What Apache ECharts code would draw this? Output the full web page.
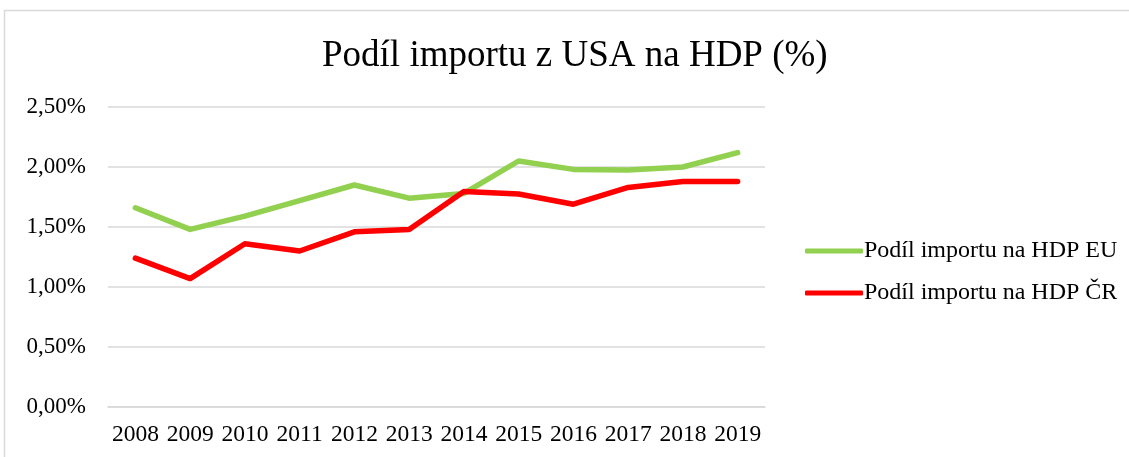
<!DOCTYPE html>
<html>
<head>
<meta charset="utf-8">
<script src="https://cdn.jsdelivr.net/npm/echarts@6/dist/echarts.min.js"></script>
<style>
  html, body { margin: 0; padding: 0; background: #fff; }
  #chart { width: 1129px; height: 457px; }
</style>
</head>
<body>
<div id="chart"></div>
<script>
var years = ['2008', '2009', '2010', '2011', '2012', '2013', '2014', '2015', '2016', '2017', '2018', '2019'];
var podilEU = [1.66, 1.48, 1.59, 1.72, 1.85, 1.74, 1.78, 2.05, 1.98, 1.975, 2.0, 2.12];
var podilCR = [1.24, 1.07, 1.36, 1.30, 1.46, 1.48, 1.795, 1.775, 1.69, 1.83, 1.88, 1.88];

var font = '"Liberation Serif", "Times New Roman", serif';
var chart = echarts.init(document.getElementById('chart'));

chart.setOption({
    animation: false,
    textStyle: { fontFamily: font },
    graphic: [{
        type: 'rect',
        shape: { x: 4.5, y: 10.5, width: 1200, height: 500 },
        style: { fill: 'none', stroke: '#d9d9d9', lineWidth: 1.5 },
        silent: true
    }],
    title: {
        text: 'Podíl importu z USA na HDP (%)',
        left: 322,
        top: 38,
        padding: 0,
        textStyle: { fontFamily: font, fontSize: 37, fontWeight: 'normal', color: '#000' }
    },
    legend: {
        orient: 'vertical',
        left: 800,
        top: 234,
        itemWidth: 58,
        itemHeight: 5,
        itemGap: 18,
        icon: 'roundRect',
        textStyle: { fontFamily: font, fontSize: 24, color: '#000', padding: [0, 0, 0, -4] },
        data: ['Podíl importu na HDP EU', 'Podíl importu na HDP ČR']
    },
    grid: { left: 108, right: 364, top: 107, bottom: 50, containLabel: false },
    xAxis: {
        type: 'category',
        data: years,
        boundaryGap: true,
        axisLine: { lineStyle: { color: '#d9d9d9', width: 1.5 } },
        axisTick: { show: false },
        axisLabel: { fontFamily: font, fontSize: 23.5, color: '#000', margin: 16, interval: 0 }
    },
    yAxis: {
        type: 'value',
        min: 0,
        max: 2.5,
        interval: 0.5,
        axisLine: { show: false },
        axisTick: { show: false },
        splitLine: { lineStyle: { color: '#d9d9d9', width: 1.5 } },
        axisLabel: {
            fontFamily: font, fontSize: 23, color: '#000', margin: 22,
            formatter: function (v) {
                return v.toFixed(2).replace('.', ',') + '%';
            }
        }
    },
    series: [{
        name: 'Podíl importu na HDP EU',
        type: 'line',
        data: podilEU,
        symbol: 'none',
        lineStyle: { color: '#92d050', width: 5.5, cap: 'round', join: 'round' },
        itemStyle: { color: '#92d050' }
    }, {
        name: 'Podíl importu na HDP ČR',
        type: 'line',
        data: podilCR,
        symbol: 'none',
        lineStyle: { color: '#ff0000', width: 5.5, cap: 'round', join: 'round' },
        itemStyle: { color: '#ff0000' }
    }]
});
</script>
</body>
</html>
